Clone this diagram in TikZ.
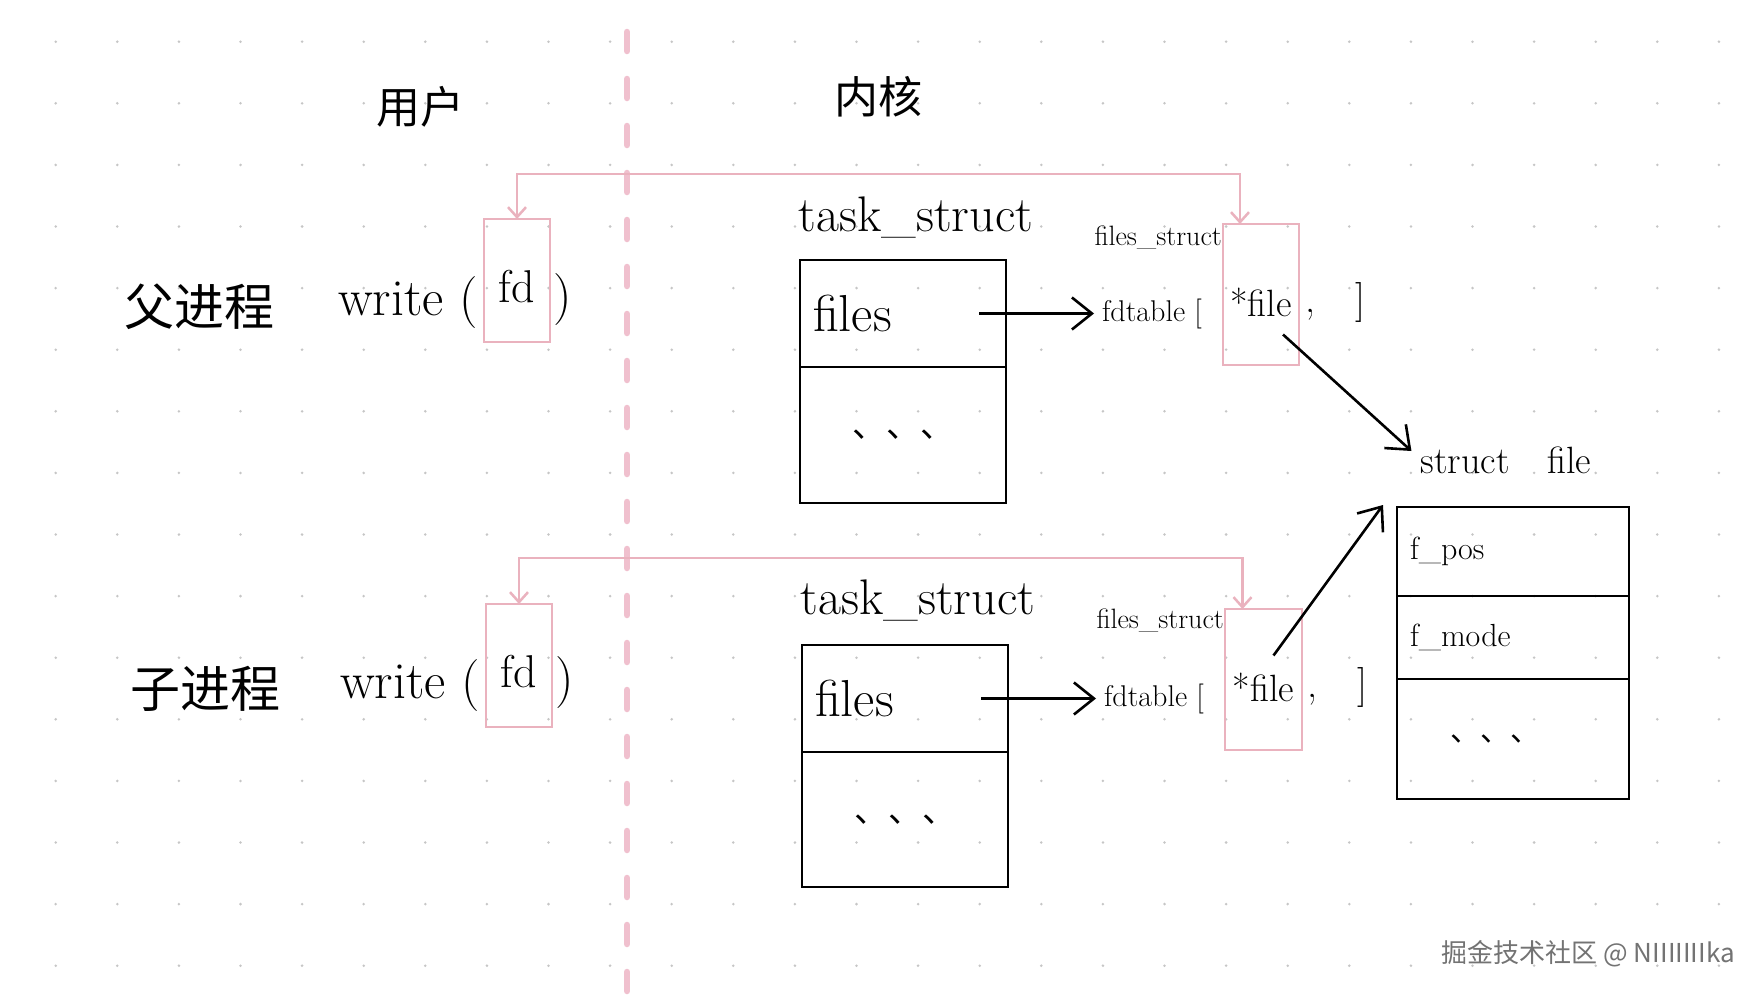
\documentclass[tikz,border=0pt]{standalone}
\usepackage{fontspec}
\usepackage{tikz}
\usepackage{xcolor}
\usetikzlibrary{positioning,arrows.meta}
\newfontfamily\cjk{Noto Sans CJK SC}
\definecolor{pen-pink}{RGB}{234,178,190}
\definecolor{dash-pink}{RGB}{240,192,206}
\definecolor{grid-dot}{RGB}{198,198,198}
\tikzset{
    hand-text/.style = {font=\fontsize{52}{58}\selectfont, inner sep=0pt},
    small-text/.style = {font=\fontsize{28}{32}\selectfont, inner sep=0pt},
    cjk-text/.style = {font=\cjk\fontsize{50}{58}\selectfont, inner sep=0pt},
    cell/.style = {draw=black, line width=2.6pt, rectangle, outer sep=0pt, minimum width=206pt, text width=180pt, inner xsep=13pt, align=left, font=\fontsize{52}{58}\selectfont},
    field-cell/.style = {cell, minimum width=232pt, text width=206pt, font=\fontsize{32}{38}\selectfont},
    pink-box/.style = {draw=pen-pink, line width=2.5pt, rectangle, outer sep=0pt, inner sep=0pt, text height=44pt},
    pink-link/.style = {draw=pen-pink, line width=2.5pt, {Straight Barb[length=10pt,width=18pt]}-{Straight Barb[length=10pt,width=18pt]}},
    pen-arrow/.style = {line width=2.6pt, -{Straight Barb[length=20pt,width=32pt]}},
    divider/.style = {draw=dash-pink, line width=6.5pt, line cap=round, dash pattern=on 19pt off 28pt},
    watermark/.style = {font=\cjk\fontsize{26}{30}\selectfont, text=black!55, inner sep=0pt},
}

\begin{document}
\begin{tikzpicture}[x=1pt, y=-1pt]
\fill[white] (0,0) rectangle (1760,996);
\useasboundingbox (0,0) rectangle (1760,996);
\foreach \i in {0,...,27}
  \foreach \j in {0,...,15}
    \fill[grid-dot] (55.7+61.6*\i, 41.7+61.6*\j) circle (1.4);
\draw[divider] (627,32) -- (627,993);

\node[cjk-text, font=\cjk\fontsize{44}{50}\selectfont, anchor=base] (user) at (420,123) {用户};
\node[cjk-text, font=\cjk\fontsize{44}{50}\selectfont, anchor=base] (kernel) at (878,113) {内核};

\node[cjk-text, anchor=base] (parent) at (199,325) {父进程};
\node[pink-box, minimum width=66pt, minimum height=123pt, font=\fontsize{46}{52}\selectfont] (fdA) at (517,280.5) {fd};
\node[hand-text, anchor=base east] (writeA) at (478,315) {write (};
\node[hand-text, anchor=base west] (closeA) at (553,312) {)};

\node[cjk-text, anchor=base] (child) at (205,707) {子进程};
\node[pink-box, minimum width=66pt, minimum height=123pt, font=\fontsize{46}{52}\selectfont] (fdB) at (519,665.5) {fd};
\node[hand-text, anchor=base east] (writeB) at (480,698) {write (};
\node[hand-text, anchor=base west] (closeB) at (555,695) {)};

\node[hand-text, font=\fontsize{50}{56}\selectfont] (taskA-title) at (916,217) {task\_struct};
\node[cell, minimum height=107pt] (taskA-top) at (903,313.5) {files};
\node[cell, minimum height=136pt, align=center, font=\cjk\fontsize{34}{40}\selectfont, below=0pt of taskA-top] (taskA-rest) {、、、};

\node[hand-text, font=\fontsize{50}{56}\selectfont] (taskB-title) at (918,600) {task\_struct};
\node[cell, minimum height=107pt] (taskB-top) at (905,698.5) {files};
\node[cell, minimum height=135pt, align=center, font=\cjk\fontsize{34}{40}\selectfont, below=0pt of taskB-top] (taskB-rest) {、、、};

\node[pink-box, minimum width=76pt, minimum height=141pt, font=\fontsize{38}{44}\selectfont] (fileA) at (1261,294.5) {*file};
\node[small-text, anchor=east] (fstA) at (1222,238) {files\_struct};
\node[hand-text, font=\fontsize{30}{36}\selectfont, anchor=west] (fdtA) at (1102,313.5) {fdtable [};
\node[hand-text, font=\fontsize{40}{46}\selectfont, anchor=west] (commaA) at (1305,302) {,\quad]};

\node[pink-box, minimum width=77pt, minimum height=141pt, font=\fontsize{38}{44}\selectfont] (fileB) at (1263.5,679.5) {*file};
\node[small-text, anchor=east] (fstB) at (1224,621) {files\_struct};
\node[hand-text, font=\fontsize{30}{36}\selectfont, anchor=west] (fdtB) at (1104,698.5) {fdtable [};
\node[hand-text, font=\fontsize{40}{46}\selectfont, anchor=west] (commaB) at (1307,687) {,\quad]};

\node[hand-text, font=\fontsize{38}{44}\selectfont] (sfile) at (1506,460) {struct\quad file};
\node[field-cell, minimum height=89pt] (sf-pos) at (1513,551.5) {f\_pos};
\node[field-cell, minimum height=83pt, below=0pt of sf-pos] (sf-mode) {f\_mode};
\node[field-cell, minimum height=120pt, font=\cjk\fontsize{30}{34}\selectfont, below=0pt of sf-mode] (sf-rest) {\hspace*{40pt}、、、};

\draw[pink-link] (fdA.north) -- ++(0,-45) -| ([shift={(-21,0)}]fileA.north);
\draw[pink-link] (fdB.north) -- ++(0,-46) -| ([shift={(-21,0)}]fileB.north);
\draw[pen-arrow, shorten >=8pt] ([shift={(-27,0)}]taskA-top.east) -- (fdtA.west);
\draw[pen-arrow, shorten >=8pt] ([shift={(-27,0)}]taskB-top.east) -- (fdtB.west);
\draw[pen-arrow] ([shift={(22,40)}]fileA.center) -- ([shift={(-9,-9)}]sfile.west);
\draw[pen-arrow] ([shift={(10,-24)}]fileB.center) -- ([shift={(-14,-2)}]sf-pos.north west);

\node[watermark, anchor=east] (mark) at (1735,954) {掘金技术社区 @ NIIIIIIIka};
\end{tikzpicture}
\end{document}
